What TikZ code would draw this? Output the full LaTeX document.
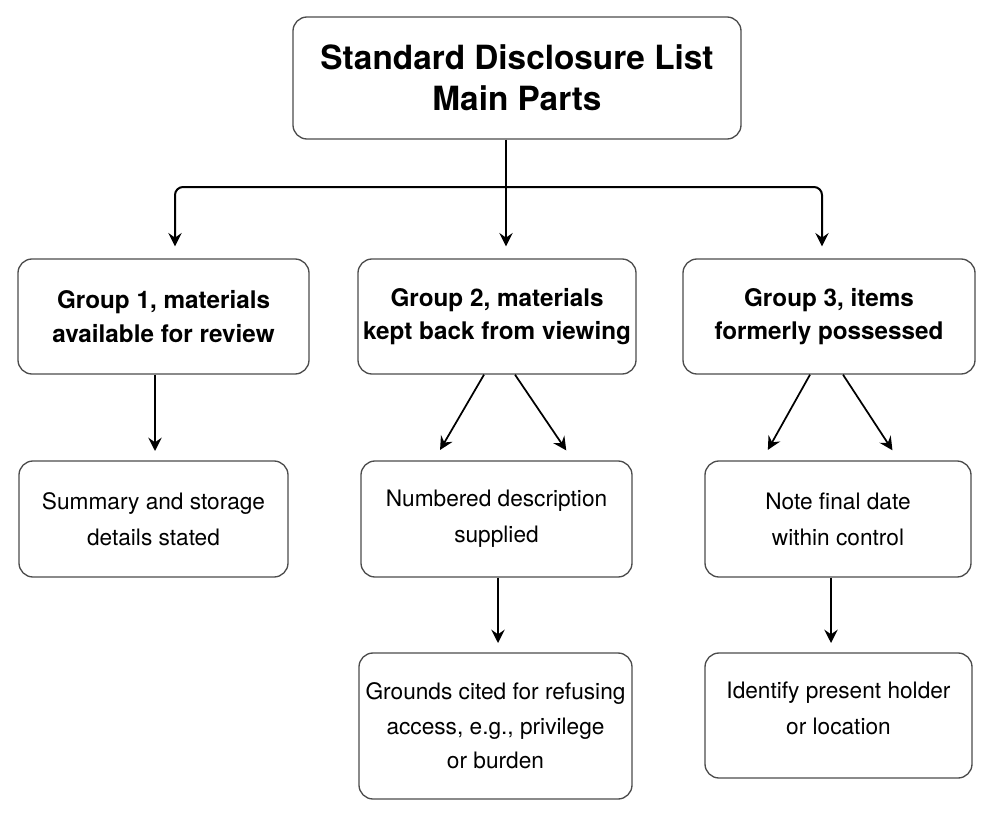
\documentclass[tikz,border=0pt]{standalone}
\usepackage{fontspec}
\setmainfont{TeX Gyre Heros}
\usetikzlibrary{positioning,calc,arrows.meta}

\begin{document}
\begin{tikzpicture}[x=0.75pt, y=-0.75pt,
    box/.style={draw=black!70, line width=1pt, rounded corners=10.5pt, align=center, inner sep=0pt},
    head/.style={box, font=\fontsize{18.2}{25}\selectfont\bfseries, minimum height=86.25pt},
    body/.style={box, font=\fontsize{17}{27}\selectfont, minimum height=87pt},
    arr/.style={-{Stealth[length=10pt,width=10pt,inset=3.5pt]}, line width=1.3pt, shorten >=7pt}]
    \useasboundingbox (0,0) rectangle (993,817);

    % Title
    \node[box, font=\fontsize{25}{31}\selectfont\bfseries, minimum width=336pt, minimum height=91.5pt]
        (title) at (517,78) {Standard Disclosure List\\Main Parts};

    % Groups
    \node[head, minimum width=218.25pt] (grp1) at (163.5,316.5) {Group 1, materials\\available for review};
    \node[head, minimum width=208.5pt]  (grp2) at (497,316.5)   {Group 2, materials\\kept back from viewing};
    \node[head, minimum width=219pt]    (grp3) at (829,316.5)   {Group 3, items\\formerly possessed};

    % Details
    \node[body, minimum width=201.75pt] (sum)  at (153.5,519) {Summary and storage\\details stated};
    \node[body, minimum width=203.25pt] (num)  at (496.5,519) {Numbered description\\supplied};
    \node[body, minimum width=199.5pt]  (note) at (838,519)   {Note final date\\within control};
    \node[body, minimum width=204.75pt, minimum height=109.5pt, font=\fontsize{17}{26}\selectfont]
        (grnd) at (495.5,726) {Grounds cited for refusing\\access, e.g., privilege\\or burden};
    \node[body, minimum width=200.25pt, minimum height=93.75pt] (ident) at (838.5,715.5) {Identify present holder\\or location\\[-16.5pt]};

    % Split from title
    \coordinate (split) at (506,187);
    \draw[line width=1.5pt] (title.south -| split) -- (split);
    \draw[arr, line width=1.5pt, shorten >=9pt, rounded corners=6pt] (split) -| ($(grp1.north)+(11.5,0)$);
    \draw[arr, line width=1.5pt, shorten >=9pt] (split) -- (grp2.north -| split);
    \draw[arr, line width=1.5pt, shorten >=9pt, rounded corners=6pt] (split) -| ($(grp3.north)+(-7,0)$);

    % Group to details
    \draw[arr] ($(grp1.south)+(-8.5,0)$) -- ($(grp1.south |- sum.north)+(-8.5,0)$);
    \foreach \from/\to/\a/\b in {grp2/num/-13/-62.5, grp2/num/18/76.5, grp3/note/-19/-76, grp3/note/14/61}
        \draw[arr, shorten >=9pt] ($(\from.south)+(\a,0)$) -- ($(\to.north)+(\b,0)$);
    \draw[arr] ($(num.south)+(1.5,0)$) -- ($(num.south |- grnd.north)+(1.5,0)$);
    \draw[arr] ($(note.south)+(-7,0)$) -- ($(note.south |- ident.north)+(-7,0)$);
\end{tikzpicture}
\end{document}
